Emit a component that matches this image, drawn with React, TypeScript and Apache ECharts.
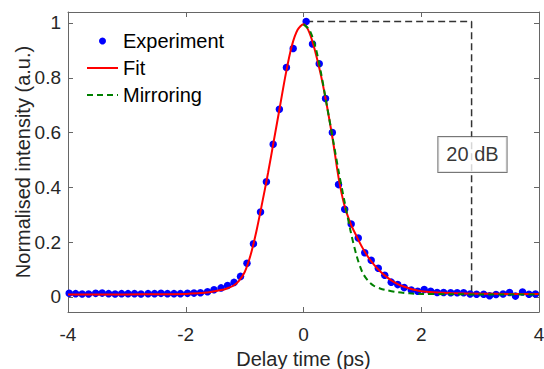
import React, { useEffect, useRef } from "react";
import * as echarts from "echarts";

// Experimental points (delay time ps, normalised intensity)
const expT = [
  -3.98, -3.87, -3.76, -3.65, -3.53, -3.42, -3.31, -3.2, -3.09, -2.98,
  -2.87, -2.76, -2.64, -2.53, -2.42, -2.31, -2.2, -2.09, -1.97, -1.86,
  -1.75, -1.63, -1.52, -1.4, -1.29, -1.18, -1.07, -0.96, -0.85, -0.73,
  -0.63, -0.515, -0.41, -0.29, -0.175, 0.045, 0.153, 0.267, 0.374, 0.49,
  0.595, 0.7, 0.81, 0.93, 1.04, 1.15, 1.27, 1.38, 1.49, 1.6,
  1.71, 1.83, 1.94, 2.05, 2.16, 2.27, 2.38, 2.5, 2.61, 2.72,
  2.83, 2.94, 3.06, 3.16, 3.27, 3.39, 3.5, 3.6, 3.72, 3.83, 3.94,
];
const expV = [
  0.013, 0.012, 0.011, 0.011, 0.013, 0.014, 0.012, 0.011, 0.012, 0.012,
  0.012, 0.011, 0.012, 0.012, 0.013, 0.012, 0.012, 0.012, 0.013, 0.014,
  0.015, 0.019, 0.026, 0.033, 0.042, 0.053, 0.075, 0.123, 0.194, 0.31,
  0.42, 0.557, 0.685, 0.837, 0.907, 1.005, 0.923, 0.851, 0.724, 0.6,
  0.41, 0.32, 0.266, 0.215, 0.161, 0.134, 0.105, 0.079, 0.054, 0.045,
  0.034, 0.025, 0.021, 0.027, 0.021, 0.016, 0.016, 0.015, 0.015, 0.015,
  0.011, 0.01, 0.01, 0.004, 0.009, 0.011, 0.016, 0.003, 0.018, 0.01, 0.011,
];

// Fit curve
const fitT = [
  -4.0, -3.0, -2.5, -2.0, -1.8, -1.6, -1.4, -1.3, -1.2, -1.1,
  -1.0, -0.9, -0.8, -0.7, -0.6, -0.5, -0.4, -0.3, -0.2, -0.1,
  0.0, 0.1, 0.2, 0.3, 0.4, 0.5, 0.6, 0.7, 0.8, 0.9,
  1.0, 1.1, 1.2, 1.3, 1.4, 1.5, 1.6, 1.7, 1.8, 1.9,
  2.0, 2.2, 2.5, 3.0, 3.5, 4.0,
];
const fitV = [
  0.009, 0.009, 0.01, 0.011, 0.013, 0.017, 0.025, 0.031, 0.04, 0.058,
  0.09, 0.152, 0.24, 0.345, 0.455, 0.575, 0.695, 0.815, 0.915, 0.975,
  0.995, 0.965, 0.895, 0.805, 0.695, 0.57, 0.43, 0.33, 0.268, 0.222,
  0.18, 0.145, 0.117, 0.094, 0.075, 0.059, 0.047, 0.038, 0.031, 0.025,
  0.021, 0.017, 0.014, 0.012, 0.011, 0.011,
];

// Mirrored leading edge
const mirT = [
  0.0, 0.1, 0.2, 0.3, 0.4, 0.5, 0.6, 0.7, 0.8, 0.9,
  1.0, 1.1, 1.2, 1.3, 1.4, 1.6, 1.8, 2.0, 2.5, 3.0, 4.0,
];
const mirV = [
  0.995, 0.975, 0.915, 0.815, 0.695, 0.575, 0.455, 0.345, 0.24, 0.152,
  0.09, 0.058, 0.04, 0.031, 0.025, 0.017, 0.013, 0.011, 0.01, 0.009, 0.009,
];

// 20 dB marker path
const markT = [0.045, 2.855, 2.855];
const markV = [1.005, 1.005, 0.008];
const markLabelPos = [2.87, 0.52];
const markLabel = "20 dB";

const xTicks = [-4, -2, 0, 2, 4];
const yTicks = [0, 0.2, 0.4, 0.6, 0.8, 1];

const FONT = "'Liberation Sans', Arial, Helvetica, sans-serif";
const AXIS_COLOR = "#666666";
const TEXT_COLOR = "#262626";

const zip = (a: number[], b: number[]) => a.map((v, i) => [v, b[i]]);

export default function App() {
  const ref = useRef<HTMLDivElement>(null);
  useEffect(() => {
    if (!ref.current) return;
    const chart = echarts.init(ref.current, undefined, { renderer: "svg" });
    const axisLine = { show: true, onZero: false, lineStyle: { color: AXIS_COLOR, width: 1 } };
    const tick = { show: true, inside: true, length: 5, lineStyle: { color: AXIS_COLOR, width: 1 } };
    chart.setOption({
      animation: false,
      textStyle: { fontFamily: FONT },
      grid: {
        left: 68,
        right: 5,
        top: 12,
        bottom: 57,
        containLabel: false,
        outerBoundsMode: "none",
      },
      legend: {
        orient: "vertical",
        left: 86,
        top: 31,
        padding: 0,
        itemWidth: 31,
        itemHeight: 7,
        itemGap: 7,
        textStyle: { fontSize: 20, color: "#000", fontFamily: FONT },
        data: [
          { name: "Experiment", icon: "circle" },
          { name: "Fit", itemStyle: { opacity: 0 } },
          { name: "Mirroring", itemStyle: { opacity: 0 } },
        ],
      },
      xAxis: [
        {
          type: "value",
          min: -4,
          max: 4,
          interval: 2,
          name: "Delay time (ps)",
          nameLocation: "middle",
          nameGap: 37,
          nameMoveOverlap: false,
          nameTextStyle: { fontSize: 20, color: TEXT_COLOR, fontFamily: FONT },
          axisLine,
          axisTick: tick,
          splitLine: { show: false },
          axisLabel: {
            fontSize: 19,
            color: TEXT_COLOR,
            margin: 13,
            fontFamily: FONT,
            customValues: xTicks,
          },
        },
        {
          type: "value",
          position: "top",
          min: -4,
          max: 4,
          interval: 2,
          axisLine,
          axisTick: tick,
          splitLine: { show: false },
          axisLabel: { show: false },
        },
      ],
      yAxis: [
        {
          type: "value",
          min: -0.055,
          max: 1.04,
          name: "Normalised intensity (a.u.)",
          nameLocation: "middle",
          nameGap: 35,
          nameMoveOverlap: false,
          nameTextStyle: { fontSize: 20, color: TEXT_COLOR, fontFamily: FONT },
          axisLine,
          axisTick: { ...tick, customValues: yTicks },
          splitLine: { show: false },
          axisLabel: {
            fontSize: 19,
            color: TEXT_COLOR,
            margin: 7,
            fontFamily: FONT,
            customValues: yTicks,
          },
        },
        {
          type: "value",
          position: "right",
          min: -0.055,
          max: 1.04,
          axisLine,
          axisTick: { ...tick, customValues: yTicks },
          splitLine: { show: false },
          axisLabel: { show: false },
        },
      ],
      series: [
        {
          name: "Experiment",
          type: "scatter",
          data: zip(expT, expV),
          symbol: "circle",
          symbolSize: 7.5,
          itemStyle: { color: "#0000ff", opacity: 1 },
        },
        {
          name: "Fit",
          type: "line",
          data: zip(fitT, fitV),
          smooth: 0.3,
          symbol: "none",
          lineStyle: { color: "#ff0000", width: 2 },
          itemStyle: { color: "#ff0000" },
        },
        {
          name: "Mirroring",
          type: "line",
          data: zip(mirT, mirV),
          smooth: 0.3,
          symbol: "none",
          lineStyle: { color: "#008000", width: 2, type: [6, 4] },
          itemStyle: { color: "#008000" },
        },
        {
          name: "marker",
          type: "line",
          data: zip(markT, markV),
          symbol: "none",
          lineStyle: { color: "#333333", width: 1.5, type: [7, 4] },
          z: 1,
        },
        {
          name: "markerLabel",
          type: "scatter",
          data: [markLabelPos],
          symbolSize: 0,
          z: 5,
          label: {
            show: true,
            position: "inside",
            formatter: markLabel,
            fontSize: 20,
            color: "#000",
            fontFamily: FONT,
            backgroundColor: "#ffffff",
            borderColor: "#555555",
            borderWidth: 1,
            padding: [8, 8, 7, 8],
          },
        },
      ],
    });
    return () => chart.dispose();
  }, []);
  return (
    <div
      ref={ref}
      style={{ position: "absolute", left: 0, top: 0, width: 544, height: 369 }}
    />
  );
}
